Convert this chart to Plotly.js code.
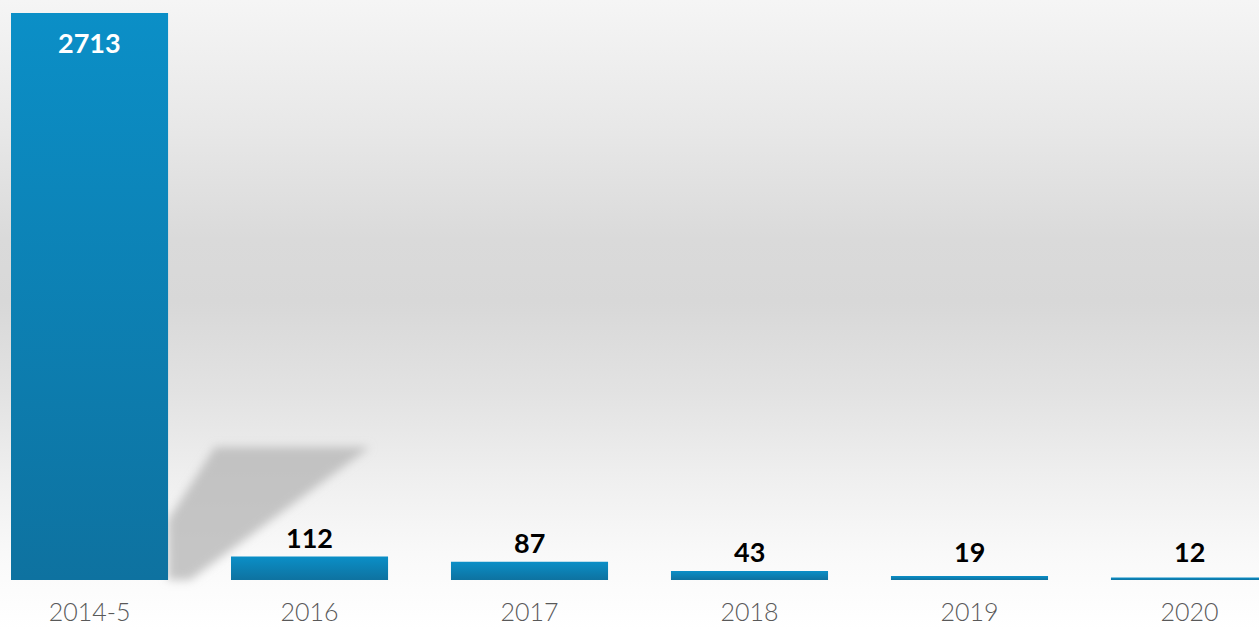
<!DOCTYPE html>
<html>
<head>
<meta charset="utf-8">
<script src="https://cdn.plot.ly/plotly-3.0.1.min.js"></script>
<style>
  html, body { margin:0; padding:0; }
  #chart {
    width:1259px; height:629px;
    background: linear-gradient(to bottom, #f5f5f5 0%, #e8e8e8 20%, #dadada 38%, #d8d8d8 48%, #e2e2e2 62%, #efefef 76%, #f9f9f9 88%, #ffffff 100%);
  }
</style>
</head>
<body>
<div id="chart"></div>
<script>
const categories = ["2014-5", "2016", "2017", "2018", "2019", "2020"];
const values = [2713, 112, 87, 43, 19, 12];

const W = 1259, H = 629, plotH = 580;
const pxPerUnit = 567 / 2713;
function px(x) { return x / W; }
function py(y) { return (plotH - y) / plotH; }

const annotations = values.map((v, i) => (i === 0 ? {
  x: i, y: v, xref: 'x', yref: 'y', text: String(v), showarrow: false,
  yanchor: 'top', yshift: -11,
  font: {family: 'Lato, sans-serif', size: 27, color: '#ffffff', weight: 700}
} : {
  x: i, y: v, xref: 'x', yref: 'y', text: String(v), showarrow: false,
  yanchor: 'bottom', yshift: 1 + Math.max(0, (43 - v) * pxPerUnit),
  font: {family: 'Lato, sans-serif', size: 27, color: '#000000', weight: 700}
}));

const shadowPath = `M ${px(168)},${py(580)} L ${px(168)},${py(520)} L ${px(215)},${py(447)} L ${px(370)},${py(447)} L ${px(190)},${py(580)} Z`;

const data = [{
  type: 'bar',
  x: categories,
  y: values,
  marker: {color: '#0c84b8', line: {width: 0}},
  hoverinfo: 'skip'
}];

const layout = {
  width: W, height: H,
  margin: {l: 0, r: 0, t: 0, b: 49, pad: 0},
  paper_bgcolor: 'rgba(0,0,0,0)',
  plot_bgcolor: 'rgba(0,0,0,0)',
  bargap: 0.286,
  showlegend: false,
  xaxis: {
    type: 'category',
    range: [-0.407, 5.316],
    showgrid: false, zeroline: false, showline: false, ticks: '',
    ticklabelstandoff: 15,
    tickfont: {family: 'Lato, sans-serif', size: 25, color: '#595959', weight: 300}
  },
  yaxis: {visible: false, range: [0, 2775], showgrid: false, zeroline: false},
  shapes: [{
    type: 'path', xref: 'paper', yref: 'paper', path: shadowPath,
    fillcolor: 'rgba(180,180,180,0.75)', line: {width: 0}, layer: 'below'
  }],
  annotations: annotations
};

Plotly.newPlot('chart', data, layout, {displayModeBar: false, staticPlot: true}).then(gd => {
  const svg = gd.querySelector('svg.main-svg');
  const ns = 'http://www.w3.org/2000/svg';
  let defs = svg.querySelector('defs');
  if (!defs) { defs = document.createElementNS(ns, 'defs'); svg.insertBefore(defs, svg.firstChild); }
  const grad = document.createElementNS(ns, 'linearGradient');
  grad.setAttribute('id', 'barGrad');
  grad.setAttribute('x1', '0'); grad.setAttribute('y1', '0');
  grad.setAttribute('x2', '0'); grad.setAttribute('y2', '1');
  [['0', '#0b8fc7'], ['1', '#0e72a0']].forEach(([o, c]) => {
    const s = document.createElementNS(ns, 'stop');
    s.setAttribute('offset', o); s.setAttribute('stop-color', c);
    grad.appendChild(s);
  });
  defs.appendChild(grad);
  const filt = document.createElementNS(ns, 'filter');
  filt.setAttribute('id', 'shadowBlur');
  filt.setAttribute('x', '-20%'); filt.setAttribute('y', '-20%');
  filt.setAttribute('width', '140%'); filt.setAttribute('height', '140%');
  const blur = document.createElementNS(ns, 'feGaussianBlur');
  blur.setAttribute('stdDeviation', '5');
  filt.appendChild(blur);
  defs.appendChild(filt);
  gd.querySelectorAll('.bars .point path').forEach(p => { p.style.fill = 'url(#barGrad)'; });
  gd.querySelectorAll('.shapelayer path').forEach(p => { p.setAttribute('filter', 'url(#shadowBlur)'); });
});
</script>
</body>
</html>
